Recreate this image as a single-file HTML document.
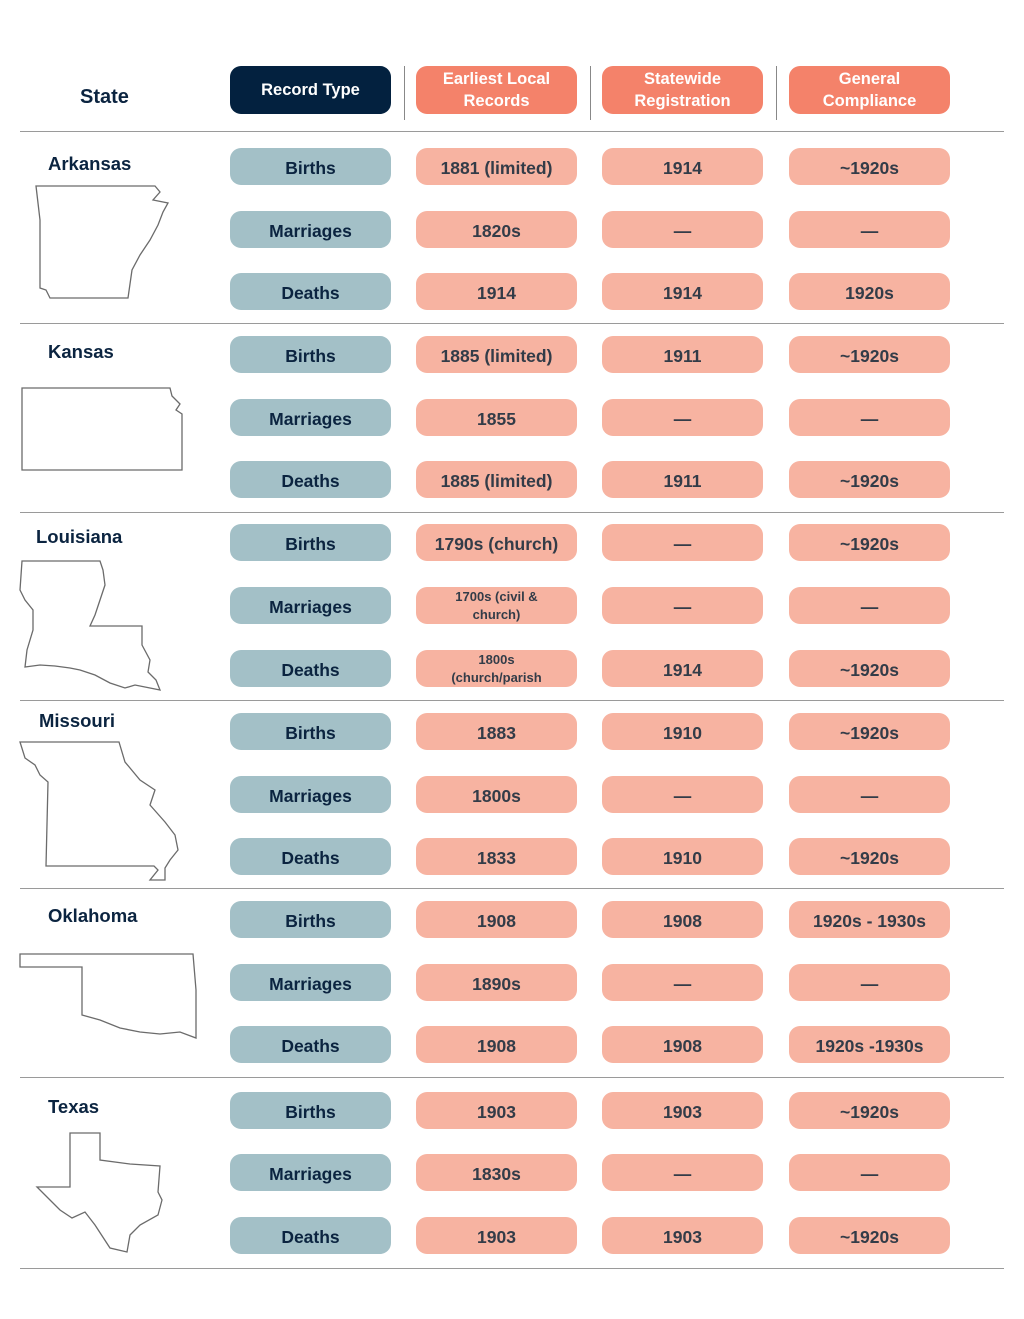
<!DOCTYPE html>
<html><head><meta charset="utf-8">
<style>
body{margin:0;background:#fff;font-family:"Liberation Sans",sans-serif;}
#root{position:relative;width:1024px;height:1319px;overflow:hidden;background:#fff;}
.pill{position:absolute;display:flex;align-items:center;justify-content:center;text-align:center;border-radius:11px;font-weight:bold;box-sizing:border-box;line-height:1.2;}
.hdr{height:48px;color:#fff;font-size:16.5px;line-height:1.35;}
.cell{height:37px;font-size:17.5px;color:#333c48;background:#f7b3a1;padding-top:3px;}
.rt{background:#a3c0c7;color:#0b2440;}
.hl{position:absolute;left:20px;width:984px;height:1px;background:#9a9a9a;}
.vl{position:absolute;top:66px;width:1px;height:54px;background:#888;}
.state{position:absolute;font-weight:bold;font-size:18.5px;color:#0b2440;}
svg.map{position:absolute;left:0;top:0;}
</style></head><body>
<div id="root">
<div class="state" style="left:80px;top:86px;font-size:20px">State</div>
<div class="pill hdr" style="left:230px;top:66px;width:161px;background:#03213f">Record Type</div>
<div class="vl" style="left:404px"></div>
<div class="pill hdr" style="left:416px;top:66px;width:161px;background:#f4826a">Earliest Local<br>Records</div>
<div class="vl" style="left:590px"></div>
<div class="pill hdr" style="left:602px;top:66px;width:161px;background:#f4826a">Statewide<br>Registration</div>
<div class="vl" style="left:776px"></div>
<div class="pill hdr" style="left:789px;top:66px;width:161px;background:#f4826a">General<br>Compliance</div>

<svg class="map" width="1024" height="1319" fill="none" stroke="#6b6b6b" stroke-width="1.3">
<polygon points="36,186 155,186 160,192 153,200 168,203 163,212 158,225 150,240 140,255 132,270 128,298 50,298 46,290 40,288 40,220"/>
<polygon points="22,388 170,388 172,396 180,404 176,410 182,414 182,470 22,470"/>
<polygon points="22,561 100,561 103,570 105,585 100,600 95,615 90,626 142,626 142,645 150,660 148,672 156,680 160,690 150,688 135,685 125,688 110,683 95,675 80,670 70,668 55,666 40,665 25,667 27,650 33,630 33,610 25,600 20,590"/>
<polygon points="20,742 119,742 125,762 140,780 155,790 150,805 165,822 175,835 178,850 170,860 165,868 165,880 150,880 158,870 154,866 46,866 48,782 40,775 35,765 25,758"/>
<polygon points="20,954 193,954 196,990 196,1038 180,1032 160,1034 140,1032 120,1028 100,1020 82,1015 82,967 20,967"/>
<polygon points="70,1133 100,1133 100,1160 130,1164 160,1166 158,1192 162,1200 158,1215 140,1225 130,1235 127,1252 110,1248 95,1225 85,1212 72,1218 60,1210 50,1200 37,1187 70,1187"/>
</svg>
</div>
<script>
const states=["Arkansas","Kansas","Louisiana","Missouri","Oklahoma","Texas"];
const recordTypes=["Births","Marriages","Deaths"];
const earliest=[["1881 (limited)","1820s","1914"],["1885 (limited)","1855","1885 (limited)"],["1790s (church)","1700s (civil &\nchurch)","1800s\n(church/parish"],["1883","1800s","1833"],["1908","1890s","1908"],["1903","1830s","1903"]];
const statewide=[["1914","—","1914"],["1911","—","1911"],["—","—","1914"],["1910","—","1910"],["1908","—","1908"],["1903","—","1903"]];
const compliance=[["~1920s","—","1920s"],["~1920s","—","~1920s"],["~1920s","—","~1920s"],["~1920s","—","~1920s"],["1920s - 1930s","—","1920s -1930s"],["~1920s","—","~1920s"]];
const root=document.getElementById('root');
const secTop=[131,323,512,700,888,1077];
const rowTops=[[148,211,273],[336,399,461],[524,587,650],[713,776,838],[901,964,1026],[1092,1154,1217]];
const labelPos=[[48,153],[48,341],[36,526],[39,710],[48,905],[48,1096]];
const colX=[416,602,789];
function mk(cls,css,txt){const d=document.createElement('div');d.className=cls;d.style.cssText=css;d.textContent=txt;return d;}
states.forEach((s,i)=>{
  const l=document.createElement('div');l.className='hl';l.style.top=secTop[i]+'px';
  
  
  root.appendChild(l);
  const n=mk('state','left:'+labelPos[i][0]+'px;top:'+labelPos[i][1]+'px',s);
  
  
  root.appendChild(n);
  recordTypes.forEach((r,j)=>{
    const t=rowTops[i][j];
    const rt=mk('pill cell rt','left:230px;top:'+t+'px;width:161px',r);
    
    
    root.appendChild(rt);
    [earliest,statewide,compliance].forEach((arr,k)=>{
      const v=arr[i][j];
      const c=mk('pill cell','left:'+colX[k]+'px;top:'+t+'px;width:161px;white-space:pre-line;'+(v.includes('\n')?'font-size:13px;line-height:1.35;padding-top:1px;':''),v);
      
      
      root.appendChild(c);
    });
  });
});
const last=document.createElement('div');last.className='hl';last.style.top='1268px';


root.appendChild(last);
</script>
</body></html>
